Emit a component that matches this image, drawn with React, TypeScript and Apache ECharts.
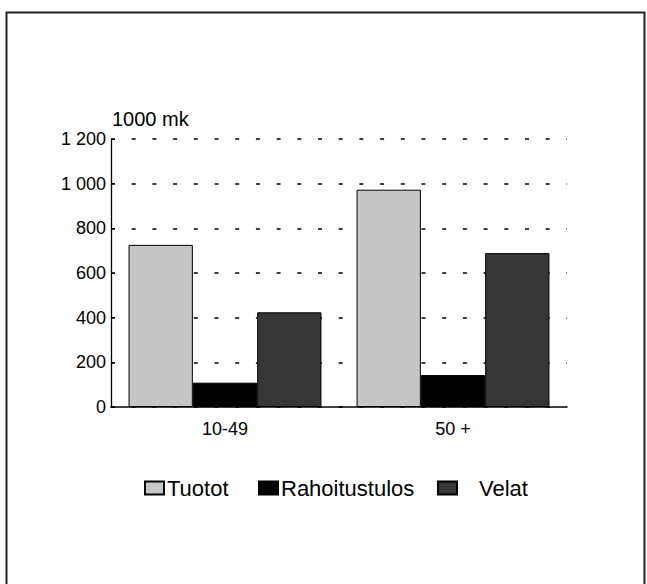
import React, { useEffect, useRef } from "react";
import * as echarts from "echarts";

const categories = ["10-49", "50 +"];
const seriesNames = ["Tuotot", "Rahoitustulos", "Velat"];
const tuotot = [726, 973];
const rahoitustulos = [109, 143];
const velat = [424, 689];
const yTicks = [0, 200, 400, 600, 800, 1000, 1200];
const unitLabel = "1000 mk";

const FONT = "'Liberation Sans', Arial, Helvetica, sans-serif";

function fmt(v: number): string {
  if (v >= 1000) {
    const th = Math.floor(v / 1000);
    const rest = String(v % 1000).padStart(3, "0");
    return `${th} ${rest}`;
  }
  return String(v);
}

export default function App() {
  const ref = useRef<HTMLDivElement>(null);
  useEffect(() => {
    document.body.style.margin = "0";
    if (!ref.current) return;
    const chart = echarts.init(ref.current, undefined, { renderer: "svg" });
    const colors = ["#c6c6c6", "#000000", "#363636"];
    const values = [tuotot, rahoitustulos, velat];
    const legendLefts = [144, 258, 437];
    chart.setOption({
      animation: false,
      backgroundColor: "#ffffff",
      textStyle: { fontFamily: FONT, color: "#000" },
      title: {
        text: unitLabel,
        left: 112,
        top: 109,
        padding: 0,
        textStyle: { fontFamily: FONT, fontSize: 20, fontWeight: "normal", color: "#000" },
      },
      legend: seriesNames.map((n, i) => ({
        data: [n],
        left: legendLefts[i],
        top: 477,
        padding: 0,
        itemWidth: 19,
        itemHeight: 13,
        icon: "rect",
        textStyle: {
          fontFamily: FONT,
          fontSize: 22,
          color: "#000",
          padding: i === 2 ? [0, 0, 0, 17] : [0, 0, 0, -2],
        },
      })),
      grid: { left: 111, right: 80, top: 139, bottom: 177, containLabel: false },
      xAxis: {
        type: "category",
        data: categories,
        axisLine: { lineStyle: { color: "#000", width: 1.5 } },
        axisTick: { show: false },
        axisLabel: { fontFamily: FONT, fontSize: 18, color: "#000", margin: 13 },
        splitLine: { show: false },
      },
      yAxis: {
        type: "value",
        min: yTicks[0],
        max: yTicks[yTicks.length - 1],
        interval: 200,
        axisLine: { show: true, lineStyle: { color: "#000", width: 1.3 } },
        axisTick: { show: true, inside: true, length: 4, lineStyle: { color: "#000" } },
        axisLabel: {
          fontFamily: FONT,
          fontSize: 18,
          color: "#000",
          margin: 5,
          formatter: (v: number) => fmt(v),
        },
        splitLine: {
          show: true,
          lineStyle: { color: "#000", width: 1.5, type: [4, 16.7] },
        },
      },
      series: seriesNames.map((n, i) => ({
        name: n,
        type: "bar",
        data: values[i],
        barGap: "0%",
        barCategoryGap: "15.4%",
        itemStyle: { color: colors[i], borderColor: "#000", borderWidth: 1 },
      })),
      graphic: [
        {
          type: "rect",
          shape: { x: 6.5, y: 12.5, width: 638, height: 620 },
          style: { fill: "none", stroke: "#222", lineWidth: 2 },
          silent: true,
        },
      ],
    });
    return () => chart.dispose();
  }, []);
  return <div ref={ref} style={{ width: 647, height: 584 }} />;
}
